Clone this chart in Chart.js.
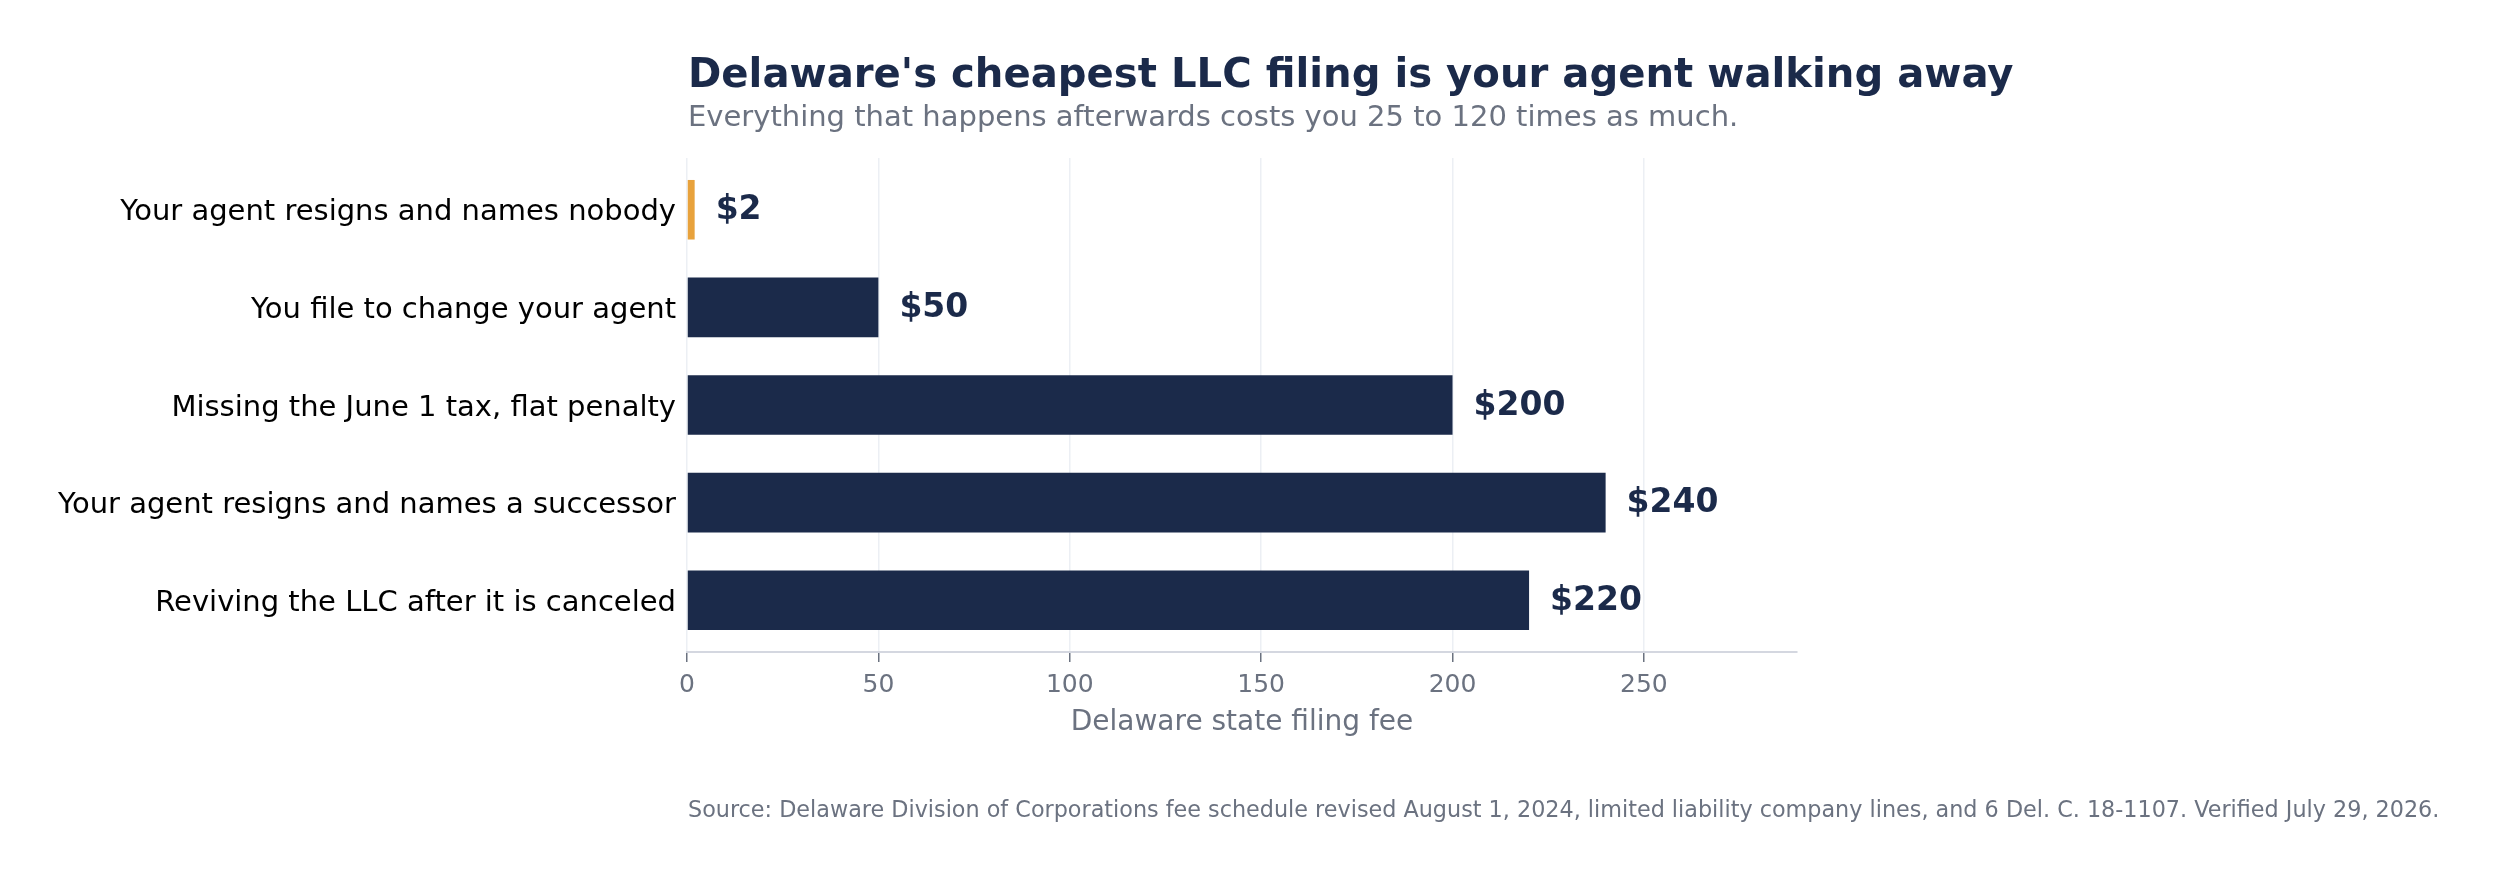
<!DOCTYPE html>
<html>
<head>
<meta charset="utf-8">
<title>Delaware LLC filing fees</title>
<script src="https://cdn.jsdelivr.net/npm/chart.js@4"></script>
<style>
  html, body { margin: 0; padding: 0; background: #ffffff; }
  #wrap { position: relative; width: 2493px; height: 876px; }
</style>
</head>
<body>
<div id="wrap"><canvas id="feeChart"></canvas></div>
<script>
// data
const categories = [
    'Your agent resigns and names nobody',
    'You file to change your agent',
    'Missing the June 1 tax, flat penalty',
    'Your agent resigns and names a successor',
    'Reviving the LLC after it is canceled'
];
const fees = [2, 50, 200, 240, 220];
const positions = [0, 1, 2, 3, 4];
const xTicks = [0, 50, 100, 150, 200, 250];

const NAVY = '#1b2a4a';
const ORANGE = '#e8a23c';
const GREY = '#6b7280';
const FONT = "'DejaVu Sans', 'Liberation Sans', sans-serif";

const titleText = "Delaware's cheapest LLC filing is your agent walking away";
const subtitleText = 'Everything that happens afterwards costs you 25 to 120 times as much.';
const sourceText = 'Source: Delaware Division of Corporations fee schedule revised August 1, 2024, limited liability company lines, and 6 Del. C. 18-1107. Verified July 29, 2026.';

// title, subtitle and source line sit flush with the plot's left edge,
// plus "$240" style labels at the end of each bar
const annotations = {
    id: 'annotations',
    afterDraw(chart) {
        const ctx = chart.ctx;
        const left = chart.chartArea.left + 1;
        const meta = chart.getDatasetMeta(0);
        ctx.save();
        ctx.textAlign = 'left';

        ctx.font = 'bold 33px ' + FONT;
        ctx.fillStyle = NAVY;
        ctx.textBaseline = 'middle';
        meta.data.forEach((bar, i) => {
            ctx.fillText('$' + fees[i], bar.x + 21, bar.y + 1);
        });

        ctx.textBaseline = 'alphabetic';
        ctx.font = 'bold 40.2px ' + FONT;
        ctx.fillStyle = NAVY;
        ctx.fillText(titleText, left, 87);

        ctx.font = '29px ' + FONT;
        ctx.fillStyle = GREY;
        ctx.fillText(subtitleText, left, 126);

        ctx.font = '22.3px ' + FONT;
        ctx.fillText(sourceText, left, 817);
        ctx.restore();
    }
};

const canvas = document.getElementById('feeChart');
new Chart(canvas.getContext('2d'), {
    type: 'bar',
    data: {
        datasets: [{
            data: fees.map((v, i) => ({ x: v, y: positions[i] })),
            backgroundColor: fees.map((v, i) => i === 0 ? ORANGE : NAVY),
            borderWidth: 0,
            categoryPercentage: 1,
            barPercentage: 0.61
        }]
    },
    options: {
        indexAxis: 'y',
        responsive: true,
        maintainAspectRatio: false,
        animation: false,
        layout: { padding: { top: 158, right: 696, bottom: 0, left: 0 } },
        plugins: {
            legend: { display: false },
            tooltip: { enabled: false }
        },
        scales: {
            x: {
                type: 'linear',
                min: 0,
                max: 290,
                afterBuildTicks: (scale) => {
                    scale.ticks = xTicks.map(v => ({ value: v }));
                },
                afterFit: (scale) => { scale.height = 224; },
                grid: {
                    color: '#eceff4',
                    lineWidth: 1.5,
                    drawTicks: true,
                    tickLength: 10,
                    tickColor: GREY,
                    tickWidth: 1.5
                },
                border: { display: true, color: '#d4d7e0', width: 2 },
                ticks: {
                    color: GREY,
                    padding: 8,
                    font: { family: FONT, size: 25 }
                },
                title: {
                    display: true,
                    text: 'Delaware state filing fee',
                    color: GREY,
                    font: { family: FONT, size: 28, lineHeight: 1.2 },
                    padding: { top: 0, bottom: 136 }
                }
            },
            y: {
                type: 'linear',
                reverse: true,
                offset: false,
                min: -0.53,
                max: 4.53,
                afterBuildTicks: (scale) => {
                    scale.ticks = positions.map(v => ({ value: v }));
                },
                afterFit: (scale) => { scale.width = 687; },
                grid: { display: false, drawTicks: false },
                border: { display: false },
                ticks: {
                    color: '#000000',
                    padding: 11,
                    labelOffset: 3,
                    font: { family: FONT, size: 29 },
                    callback: (value) => categories[value]
                }
            }
        }
    },
    plugins: [annotations]
});
</script>
</body>
</html>
